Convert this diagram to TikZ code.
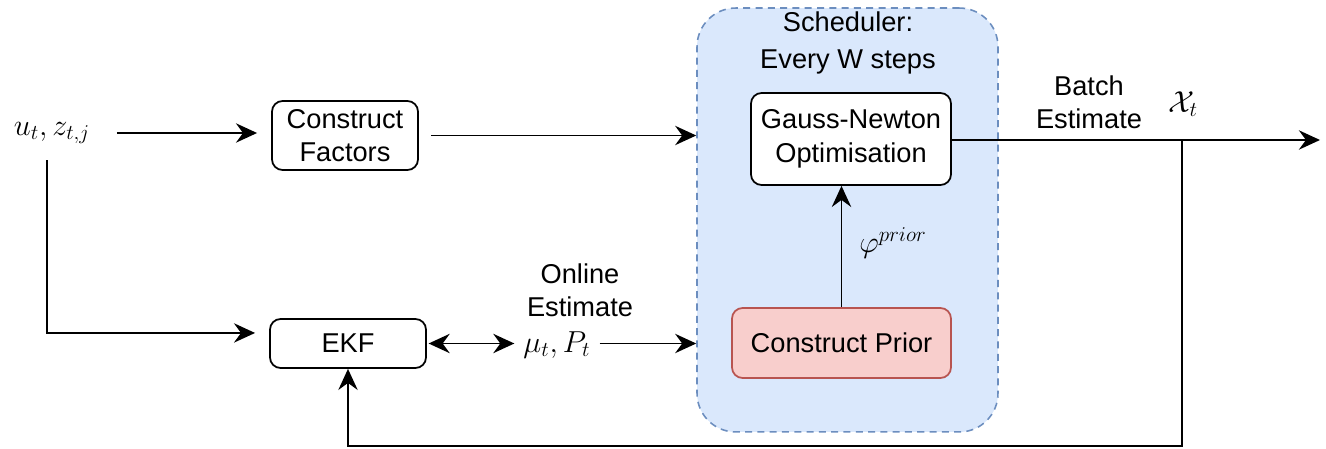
\documentclass[tikz,border=0pt]{standalone}
\usepackage{amsmath,amssymb}
\usepackage{fontspec}
\setmainfont{Liberation Sans}
\usepackage{xcolor}
\usepackage{tikz}
\usetikzlibrary{calc,arrows.meta}
\definecolor{ink}{HTML}{000000}
\definecolor{schedfill}{HTML}{DAE8FC}
\definecolor{schededge}{HTML}{6C8EBF}
\definecolor{priorfill}{HTML}{F8CECC}
\definecolor{prioredge}{HTML}{B85450}
\newcommand{\lab}{\fontsize{15.5}{19}\selectfont}
\newcommand{\labm}{\fontsize{18.5}{22}\selectfont}
\tikzset{
  box/.style={draw=ink, line width=1pt, rounded corners=6pt, fill=white, align=center, inner sep=0pt, font=\lab},
  sched/.style={draw=schededge, fill=schedfill, dashed, dash pattern=on 4pt off 3pt, line width=0.9pt, rounded corners=22pt, inner sep=0pt},
  prior/.style={box, draw=prioredge, fill=priorfill},
  txt/.style={align=center, inner sep=0pt, font=\lab},
  mth/.style={inner sep=0pt, font=\labm},
  conn/.style={draw=ink, line width=1.1pt},
  arr/.style={conn, -{Stealth[length=12pt, width=11pt, inset=4pt]}},
  darr/.style={conn, {Stealth[length=12pt, width=11pt, inset=4pt]}-{Stealth[length=12pt, width=11pt, inset=4pt]}},
}

\begin{document}
\begin{tikzpicture}[x=0.02cm, y=-0.02cm]
  \useasboundingbox (0,0) rectangle (1326,449);
  % scheduler container
  \node[sched, minimum width=6.02cm, minimum height=8.48cm] (sch) at (847.5,220) {};
  \node[txt, font=\fontsize{15.5}{21}\selectfont] (schlab) at (848,43) {Scheduler:\\Every W steps};
  % boxes
  \node[mth] (inp) at (52,133) {$u_t, z_{t,j}$};
  \node[box, minimum width=2.92cm, minimum height=1.38cm] (cf) at (345,135.5) {Construct\\Factors};
  \node[box, minimum width=4cm, minimum height=1.84cm] (gn) at (851,139) {Gauss-Newton\\Optimisation};
  \node[prior, minimum width=4.38cm, minimum height=1.4cm] (cp) at (841.5,343) {Construct Prior};
  \node[box, minimum width=3.12cm, minimum height=0.98cm] (ekf) at (348,343.5) {EKF};
  \node[mth] (mu) at (557,345) {$\mu_t, P_t$};
  \node[txt] (onl) at (580,290) {Online\\Estimate};
  \node[txt] (bat) at (1089,102) {Batch\\Estimate};
  \node[mth] (xt) at (1183,104) {$\mathcal{X}_t$};
  \node[mth] (phi) at (893,243) {$\varphi^{prior}$};
  \coordinate (out) at (1320,140);
  \coordinate (tap) at (1182,140);
  \coordinate (fb) at (1182,446);
  % connectors
  \draw[arr, shorten <=15pt, shorten >=8pt] (inp.east) -- (inp.east -| cf.west);
  \draw[arr, shorten <=7pt] (cf.east) -- (cf.east -| sch.west);
  \draw[arr] (cp.north) -- (cp.north |- gn.south);
  \draw[arr] (gn.east |- out) -- (out);
  \draw[arr, shorten <=9pt, shorten >=8pt] ([xshift=-3pt]inp.south) |- ([yshift=6pt]ekf.west);
  \draw[darr, shorten <=1pt, shorten >=5pt] (ekf.east) -- (ekf.east -| mu.west);
  \draw[arr, shorten <=5pt] (mu.east |- ekf.east) -- (ekf.east -| sch.west);
  \draw[arr] (tap) -- (fb) -| (ekf.south);
\end{tikzpicture}
\end{document}
